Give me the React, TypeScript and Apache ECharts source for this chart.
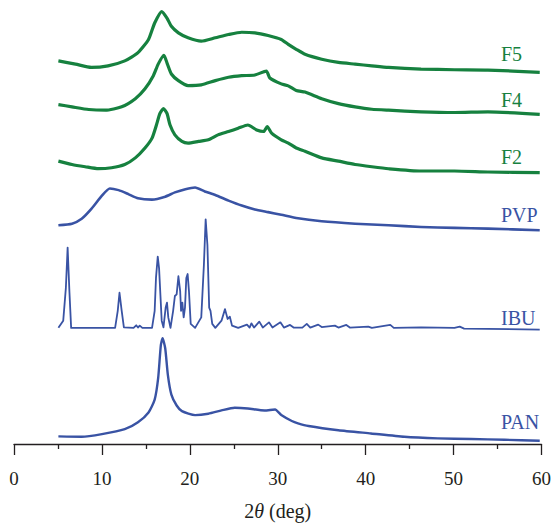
import React, { useEffect, useRef } from "react";
import * as echarts from "echarts";

// 2θ (deg) positions and intensities (arbitrary units, relative to each pattern's own baseline)
const panX = [5.05, 7.7, 10, 12.6, 14.1, 15.3, 16, 16.4, 16.7, 16.9, 17.2, 17.5, 17.9, 18.5, 19.1, 20.6, 22.1, 23.6, 25.1, 26.6, 28.5, 29.7, 30.4, 31.6, 32.3, 33.5, 36.9, 40.6, 44.4, 48.2, 52, 55.8, 59.8];
const panY = [7.7, 7.3, 10, 15, 22, 32, 45, 67, 100, 107.3, 97, 70, 50, 39, 33.3, 29.3, 30.7, 34, 36.7, 36, 34, 35, 29.3, 23.3, 21, 18.3, 14, 10.7, 7.3, 5.7, 5, 4.3, 3.3];

const ibuX = [5.05, 5.6, 5.9, 6.1, 6.3, 6.5, 11.5, 11.8, 12.0, 12.25, 12.5, 13.6, 13.9, 14.1, 14.3, 14.6, 15.7, 16, 16.15, 16.35, 16.5, 16.8, 17.0, 17.25, 17.4, 17.55, 17.8, 18.1, 18.3, 18.5, 18.7, 18.9, 19.0, 19.15, 19.3, 19.45, 19.6, 19.75, 19.9, 20.1, 20.6, 21.3, 21.6, 21.8, 22.0, 22.2, 22.35, 22.55, 22.9, 23.6, 24.0, 24.3, 24.55, 24.8, 25.5, 26.5, 26.8, 27.0, 27.3, 27.9, 28.3, 29.0, 29.4, 30.3, 30.7, 31.4, 31.8, 32.8, 33.3, 33.7, 34.6, 35.0, 36.5, 36.9, 37.8, 38.2, 40.3, 40.7, 42.8, 43.2, 46.3, 50.1, 50.7, 51.2, 59.8];
const ibuY = [0.7, 8, 41.3, 82, 38, 0.7, 0.7, 18, 36.3, 18, 1.3, 0.7, 3.3, 1, 3, 0.7, 0.7, 18, 51.3, 73, 61.3, 8, 1.3, 21.3, 26.3, 11.3, 0.7, 18, 33, 34.7, 53, 38, 18, 26.3, 11.3, 21.3, 51.3, 55.3, 38, 4.7, 0.7, 11.3, 64.7, 110.7, 84.7, 21.3, 18, 4.7, 0.7, 8, 19.7, 9.7, 12, 3, 0.7, 4, 1, 5.3, 1, 7, 1, 6.3, 1, 6.3, 1, 3.7, 1, 1, 4.7, 1, 4, 1.5, 3, 1, 3.7, 1, 2, 0.7, 3.7, 0.7, 1.3, 0.7, 2, 0, -1];

const pvpX = [5.05, 6.6, 7.7, 8.8, 10, 10.9, 11.9, 13, 14.1, 15.7, 17.2, 18.3, 19.5, 20.6, 21.7, 22.9, 24.4, 25.9, 27.4, 28.9, 30.4, 32.1, 35, 38.8, 42.6, 46.3, 50.1, 53.9, 59.8];
const pvpY = [6.7, 8.3, 13.3, 23.3, 36.7, 44, 42.3, 38.3, 34, 32.7, 35.7, 40, 43.3, 45, 41, 37.3, 31.7, 26.7, 22.7, 20, 17.3, 14, 10.7, 8.3, 6.7, 5, 4, 3.3, 1.7];

const f2X = [5.05, 6.6, 8.1, 9.6, 11.1, 12.6, 13.8, 14.9, 15.7, 16.2, 16.6, 17.0, 17.4, 17.75, 18.3, 19.1, 19.8, 21, 22.1, 23.2, 24.4, 25.5, 26.6, 27.6, 28.4, 28.8, 29.3, 30.4, 31.2, 32.1, 33.1, 35, 36.9, 38.8, 40.7, 42.6, 46.3, 50.1, 53.9, 59.8];
const f2Y = [14.7, 11.3, 9, 7, 8, 11.3, 18, 28, 38, 51.3, 63, 68, 63, 51.3, 41.3, 34.7, 33, 34.7, 36.3, 41.3, 44.7, 48, 51.3, 46.3, 44.7, 49.7, 43, 36.3, 33, 28, 24.7, 18, 14.7, 11.3, 9, 7, 4.7, 4.7, 3.7, 3];

const f4X = [5.05, 6.6, 8.5, 10.4, 12.25, 13.8, 14.9, 15.85, 16.4, 17.05, 17.45, 17.9, 18.7, 19.8, 21.3, 22.9, 24.4, 25.9, 27.4, 28.7, 29.1, 30.4, 31.2, 32.1, 33.1, 35, 36.9, 38.8, 40.7, 42.6, 46.3, 50.1, 53.9, 59.8];
const f4Y = [11, 8.7, 6, 5.3, 8.7, 17, 27, 40.3, 52, 61, 52, 42, 35.3, 30.3, 31, 35.3, 38.7, 40.3, 41, 45, 38, 32, 30, 25.3, 23.7, 17, 12, 8.7, 6.3, 5.3, 3.7, 3, 3.7, 1];

const f5X = [5.05, 7, 8.8, 10.7, 12.6, 14.1, 15.3, 16, 16.8, 17.4, 17.9, 18.7, 19.8, 21.3, 22.9, 24.4, 25.9, 27.4, 28.9, 30.4, 31.2, 32.1, 33.1, 35, 36.9, 38.8, 40.7, 42.6, 46.3, 50.1, 53.9, 59.8];
const f5Y = [12.3, 9, 5.7, 7.3, 12.3, 20.7, 34, 50.7, 62.3, 55.7, 47.3, 40.7, 35.7, 32.3, 35.7, 39, 41.3, 40.7, 38, 34, 29, 24, 19, 14, 10.7, 9, 7.3, 5.7, 4, 3.3, 3, 0.7];

// vertical stacking offsets of each pattern
const names = ["PAN", "IBU", "PVP", "F2", "F4", "F5"];
const offsets = [0, 117, 215, 272, 333, 376];
const xs = [panX, ibuX, pvpX, f2X, f4X, f5X];
const ys = [panY, ibuY, pvpY, f2Y, f4Y, f5Y];

const BLUE = "#3953a4";
const GREEN = "#16813f";
const colors = [BLUE, BLUE, BLUE, GREEN, GREEN, GREEN];
const widths = [2.4, 1.8, 2.6, 3.2, 3.2, 3.2];
const smooths = [0.2, 0, 0.2, 0.2, 0.2, 0.2];
const labelTop = [423, 319, 216, 158, 101, 55];

export default function App() {
  const ref = useRef<HTMLDivElement>(null);
  useEffect(() => {
    if (!ref.current) return;
    const chart = echarts.init(ref.current, null, { renderer: "svg" });
    const series = names.map((n, i) => ({
      name: n,
      type: "line",
      showSymbol: false,
      symbol: "none",
      smooth: smooths[i],
      lineStyle: { color: colors[i], width: widths[i], join: "round" },
      data: xs[i].map((x, k) => [x, ys[i][k] + offsets[i]]),
      z: 2,
    }));
    chart.setOption({
      animation: false,
      backgroundColor: "#ffffff",
      grid: { left: 14, right: 9, top: 0, bottom: 76, containLabel: false },
      xAxis: {
        type: "value",
        min: 0,
        max: 60,
        interval: 10,
        name: "{n|2}{i|θ}{n| (deg)}",
        nameLocation: "middle",
        nameGap: 57,
        nameTextStyle: {
          rich: {
            n: { fontFamily: "Liberation Serif", fontSize: 20, color: "#231f20" },
            i: { fontFamily: "Liberation Serif", fontSize: 20, fontStyle: "italic", color: "#231f20" },
          },
        },
        axisLine: { show: true, onZero: false, lineStyle: { color: "#231f20", width: 1.3 } },
        axisTick: { show: true, inside: false, length: 11, lineStyle: { color: "#231f20", width: 1.3 } },
        minorTick: { show: true, splitNumber: 2, length: 5, lineStyle: { color: "#231f20", width: 1.3 } },
        splitLine: { show: false },
        minorSplitLine: { show: false },
        axisLabel: { margin: 25, fontFamily: "Liberation Serif", fontSize: 19, color: "#231f20" },
      },
      yAxis: { type: "value", min: 0, max: 450, show: false, splitLine: { show: false } },
      graphic: names.map((n, i) => ({
        type: "text",
        left: 501,
        top: labelTop[i] - 11,
        style: { text: n, fontFamily: "Liberation Serif", fontSize: 20, fill: colors[i] },
      })),
      series,
    });
    return () => chart.dispose();
  }, []);
  return <div ref={ref} style={{ position: "fixed", left: 0, top: 0, width: 554, height: 526 }} />;
}
